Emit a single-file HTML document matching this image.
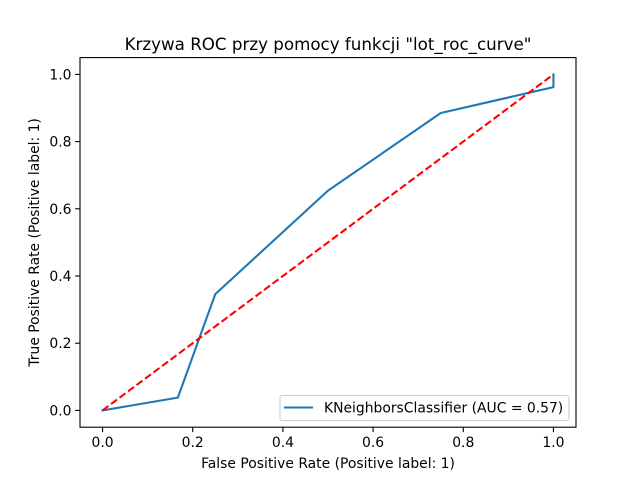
<!DOCTYPE html>
<html><head><meta charset="utf-8"><style>body{margin:0;background:#fff}svg{display:block;font-family:"DejaVu Sans","Liberation Sans",sans-serif}</style></head>
<body>
<svg id="c" width="640" height="480" xmlns="http://www.w3.org/2000/svg"></svg>
<script>
const fpr=[0,0.167,0.25,0.5,0.75,1,1];
const tpr=[0,0.038,0.346,0.654,0.885,0.962,1];
const chanceX=[0,1];
const chanceY=[0,1];
const xTicks=[0,0.2,0.4,0.6,0.8,1.0];
const yTicks=[0,0.2,0.4,0.6,0.8,1.0];
const xTickLabels=["0.0","0.2","0.4","0.6","0.8","1.0"];
const yTickLabels=["0.0","0.2","0.4","0.6","0.8","1.0"];
const L=80,R=576,T=57.6,B=427.2;
const sx=v=>L+(v+0.05)/1.1*(R-L);
const sy=v=>B-(v+0.05)/1.1*(B-T);
const svg=document.getElementById('c');
const NS='http://www.w3.org/2000/svg';
function mk(tag,attrs,name,txt){const e=document.createElementNS(NS,tag);for(const k in attrs)e.setAttribute(k,attrs[k]);


if(txt!==undefined)e.textContent=txt;svg.appendChild(e);return e;}
mk('rect',{x:L,y:T,width:R-L,height:B-T,fill:'#fff'},'plot-area');
mk('polyline',{points:fpr.map((v,i)=>sx(v)+','+sy(tpr[i])).join(' '),fill:'none',stroke:'#1f77b4','stroke-width':2.08,'stroke-linejoin':'round','stroke-linecap':'square'},'roc-curve');
mk('polyline',{points:chanceX.map((v,i)=>sx(v)+','+sy(chanceY[i])).join(' '),fill:'none',stroke:'#ff0000','stroke-width':2.08,'stroke-dasharray':'7.4,3.2'},'chance-line');
mk('rect',{x:L,y:T,width:R-L,height:B-T,fill:'none',stroke:'#000','stroke-width':1.1},'axes-frame');
xTicks.forEach((v,i)=>{mk('line',{x1:sx(v),x2:sx(v),y1:B,y2:B+4.9,stroke:'#000','stroke-width':1.1},'x-tick');
mk('text',{x:sx(v),y:B+20,'text-anchor':'middle','font-size':13.9},'x-tick-label',xTickLabels[i]);});
yTicks.forEach((v,i)=>{mk('line',{x1:L-4.9,x2:L,y1:sy(v),y2:sy(v),stroke:'#000','stroke-width':1.1},'y-tick');
mk('text',{x:L-8.5,y:sy(v)+5,'text-anchor':'end','font-size':13.9},'y-tick-label',yTickLabels[i]);});
mk('text',{x:(L+R)/2,y:468,'text-anchor':'middle','font-size':13.9},'x-axis-title','False Positive Rate (Positive label: 1)');
mk('text',{x:39,y:(T+B)/2,'text-anchor':'middle','font-size':13.9,transform:'rotate(-90 39 '+(T+B)/2+')'},'y-axis-title','True Positive Rate (Positive label: 1)');
mk('text',{x:(L+R)/2,y:50,'text-anchor':'middle','font-size':16.7},'chart-title','Krzywa ROC przy pomocy funkcji "lot_roc_curve"');
mk('rect',{x:280,y:395.5,width:289,height:25,rx:2,fill:'#fff','fill-opacity':0.8,stroke:'#ccc','stroke-width':1.1},'legend-box');
mk('line',{x1:284,x2:313,y1:407.5,y2:407.5,stroke:'#1f77b4','stroke-width':2.08},'legend-swatch');
mk('text',{x:324,y:412.5,'font-size':13.9},'legend-entry','KNeighborsClassifier (AUC = 0.57)');
</script>
</body></html>
